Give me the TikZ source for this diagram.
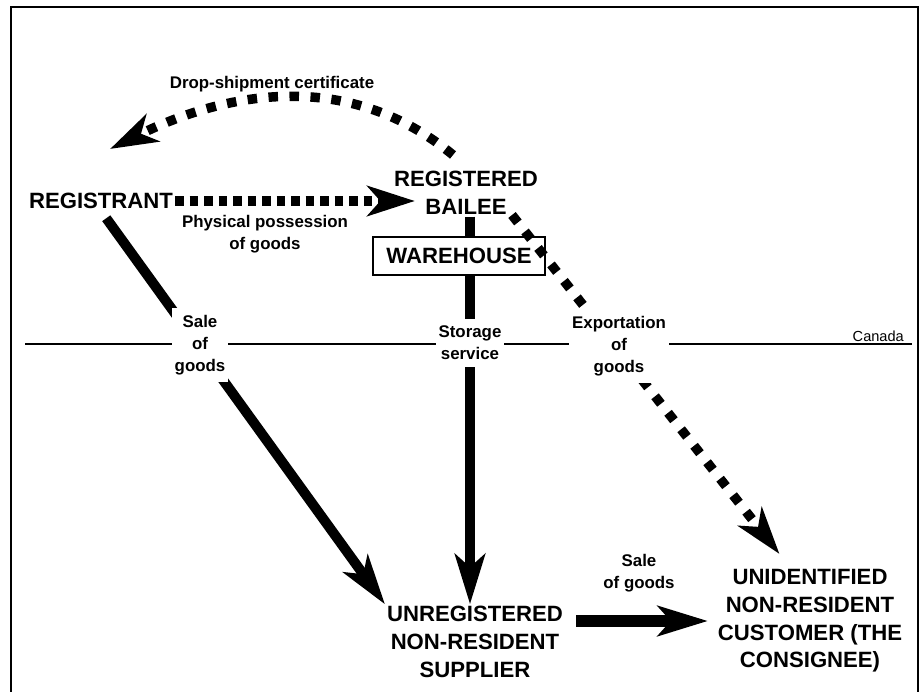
\documentclass[tikz,border=0pt]{standalone}
\usepackage{fontspec}
\setmainfont{Liberation Sans}
\usetikzlibrary{arrows.meta}

\tikzset{
  party/.style={font=\bfseries\fontsize{12.6}{15.8}\selectfont,align=center,inner sep=1pt},
  flowlabel/.style={font=\bfseries\fontsize{9.6}{12.4}\selectfont,align=center,inner sep=1pt},
  cutlabel/.style={flowlabel,fill=white,inner xsep=0.06cm,inner ysep=0.14cm},
  solidflow/.style={line width=0.2cm,-{Stealth[length=1cm,width=0.6cm,inset=0.26cm]}},
  dotflow/.style={line width=0.19cm,dash pattern=on 0.17cm off 0.12cm,-{Stealth[length=0.95cm,width=0.6cm,inset=0.26cm]}},
  wide dots/.style={dash pattern=on 0.19cm off 0.23cm}
}

\begin{document}
\begin{tikzpicture}[x=0.02cm,y=-0.02cm]
\useasboundingbox (0,0) rectangle (919,692);
\draw[line width=0.03cm] (11,692) -- (11,7) -- (918,7) -- (918,692);
\coordinate (certFrom) at (453,155); \coordinate (certTo) at (110,149); \coordinate (exportFrom) at (512,215);
\coordinate (borderW) at (25,344); \coordinate (borderE) at (912,344);
\draw[line width=0.026cm] (borderW) -- (borderE);
\node[anchor=east,font=\fontsize{8.3}{10}\selectfont] (canada) at (910,336) {Canada};
\node[party] (registrant) at (101,201) {REGISTRANT};
\node[party] (bailee) at (466,193) {REGISTERED\\BAILEE};
\node[party] (supplier) at (475,642) {UNREGISTERED\\NON-RESIDENT\\SUPPLIER};
\node[party] (customer) at (810,621) {UNIDENTIFIED\\NON-RESIDENT\\CUSTOMER (THE\\CONSIGNEE)};
\draw[solidflow,shorten <=0.18cm] (registrant.south) -- (supplier.north west);
\draw[solidflow] ([xshift=0.08cm]bailee.south) -- ([xshift=0.08cm]bailee.south |- supplier.north);
\draw[solidflow,line width=0.24cm,shorten <=0.22cm,shorten >=0.16cm] (supplier.north east |- customer.west) -- (customer.west);
\node[party,draw,fill=white,line width=0.04cm,inner xsep=0.26cm,inner ysep=0.23cm] (warehouse) at (459,256) {WAREHOUSE};
\draw[dotflow,shorten >=-0.46cm] (registrant.east) -- (registrant.east -| bailee.west);
\draw[dotflow,wide dots] (certFrom) .. controls (350,70) and (230,90) .. (certTo);
\draw[dotflow,wide dots,shorten >=0.34cm] (exportFrom) -- ([xshift=-0.4cm]customer.north);
\node[flowlabel] (certlabel) at (272,84) {Drop-shipment certificate};
\node[flowlabel] (posslabel) at (265,234) {Physical possession\\of goods};
\node[cutlabel] (salelabel) at (200,345) {Sale\\of\\goods};
\node[cutlabel] (storelabel) at (470,343) {Storage\\service};
\node[cutlabel] (exportlabel) at (619,346) {Exportation\\of\\goods};
\node[flowlabel] (resalelabel) at (639,573) {Sale\\of goods};
\end{tikzpicture}
\end{document}
